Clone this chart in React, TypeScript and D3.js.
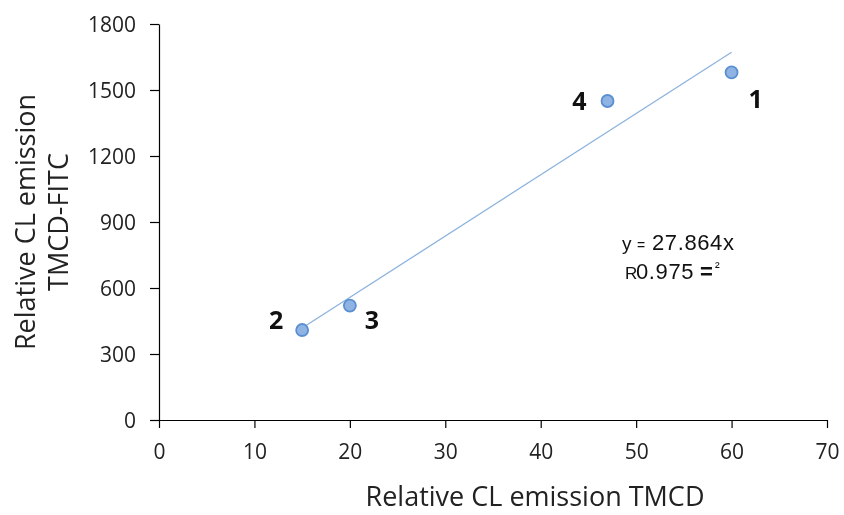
import * as d3 from "d3";
import React, { useEffect, useRef } from "react";

const xValues = [60, 15, 20, 47];
const yValues = [1580, 409, 520, 1450];
const pointLabels = ["1", "2", "3", "4"];
const xTicks = [0, 10, 20, 30, 40, 50, 60, 70];
const yTicks = [0, 300, 600, 900, 1200, 1500, 1800];
const slope = 27.864;
const rSquared = 0.975;
const trendRange = [15, 60];

const App = () => {
  const svgRef = useRef(null);

  useEffect(() => {
    const W = 844,
      H = 515;
    const svg = d3.select(svgRef.current).html("").attr("width", W).attr("height", H);
    const font = "'Open Sans', sans-serif";
    const eqFont = "'Liberation Sans', Arial, sans-serif";

    const x = d3.scaleLinear().domain([0, 70]).range([159, 827]);
    const y = d3.scaleLinear().domain([0, 1800]).range([420, 24]);

    // axes
    const xAxis = svg
      .append("g")
      .attr("transform", `translate(0,${y(0)})`)
      .call(
        d3.axisBottom(x).tickValues(xTicks).tickFormat(d3.format("d")).tickSize(8).tickPadding(16).tickSizeOuter(0)
      );
    const yAxis = svg
      .append("g")
      .attr("transform", `translate(${x(0)},0)`)
      .call(
        d3.axisLeft(y).tickValues(yTicks).tickFormat(d3.format("d")).tickSize(9).tickPadding(14).tickSizeOuter(0)
      );

    [xAxis, yAxis].forEach((a) => {
      a.select(".domain").attr("stroke", "#000").attr("stroke-width", 1.2);
      a.selectAll(".tick line").attr("stroke", "#000").attr("stroke-width", 1.2);
      a.selectAll(".tick text")
        .attr("fill", "#222")
        .style("font-family", font)
        .style("font-size", "21px");
    });
    yAxis.selectAll(".tick text").attr("dy", "0.36em");

    // trendline
    svg
      .append("line")
      .attr("x1", x(trendRange[0]))
      .attr("y1", y(slope * trendRange[0]))
      .attr("x2", x(trendRange[1]))
      .attr("y2", y(slope * trendRange[1]))
      .attr("stroke", "#8db3dd")
      .attr("stroke-width", 1.3);

    const pts = xValues.map((v, i) => ({ x: v, y: yValues[i], label: pointLabels[i] }));

    svg
      .selectAll("circle.pt")
      .data(pts)
      .enter()
      .append("circle")
      .attr("class", "pt")
      .attr("cx", (d) => x(d.x))
      .attr("cy", (d) => y(d.y))
      .attr("r", 6)
      .attr("fill", "#8fb4e3")
      .attr("stroke", "#5a8fd2")
      .attr("stroke-width", 1.8);

    // point labels, offset from their point
    const offsets = { "1": [24, 36], "2": [-26, -1], "3": [22, 23], "4": [-28, 9] };
    svg
      .selectAll("text.lbl")
      .data(pts)
      .enter()
      .append("text")
      .attr("class", "lbl")
      .attr("x", (d) => x(d.x) + offsets[d.label][0])
      .attr("y", (d) => y(d.y) + offsets[d.label][1])
      .attr("text-anchor", "middle")
      .style("font-family", font)
      .style("font-weight", "bold")
      .style("font-size", "25px")
      .attr("fill", "#111")
      .text((d) => d.label);

    // equation
    const eq1 = svg.append("text").attr("y", 250).style("font-family", eqFont).attr("fill", "#111");
    eq1.append("tspan").attr("x", 622).style("font-size", "19px").text("y");
    eq1.append("tspan").attr("x", 637).style("font-size", "14px").text("=");
    eq1.append("tspan").attr("x", 652).style("font-size", "22px").style("letter-spacing", "0.6px").text(`${slope}x`);

    const eq2 = svg.append("text").attr("y", 279).style("font-family", eqFont).attr("fill", "#111");
    eq2.append("tspan").attr("x", 625).style("font-size", "17px").text("R");
    eq2.append("tspan").attr("x", 636).style("font-size", "22px").style("letter-spacing", "0.6px").text(`${rSquared}`);
    eq2.append("tspan").attr("x", 700).style("font-size", "22px").style("font-weight", "bold").text("=");
    eq2.append("tspan").attr("x", 715).attr("dy", -7).style("font-size", "14px").text("²");

    // axis titles
    svg
      .append("text")
      .attr("x", 535)
      .attr("y", 506)
      .attr("text-anchor", "middle")
      .style("font-family", font)
      .style("font-size", "27px")
      .attr("fill", "#222")
      .text("Relative CL emission TMCD");

    const yt = svg
      .append("text")
      .attr("transform", "translate(0,222) rotate(-90)")
      .attr("text-anchor", "middle")
      .style("font-family", font)
      .style("font-size", "27px")
      .attr("fill", "#222");
    yt.append("tspan").attr("x", 0).attr("y", 35).text("Relative CL emission");
    yt.append("tspan").attr("x", 0).attr("y", 68).text("TMCD-FITC");
  }, []);

  return (
    <div style={{ position: "fixed", left: 0, top: 0, overflow: "hidden" }}>
      <svg ref={svgRef} style={{ display: "block" }} />
    </div>
  );
};

export default App;
